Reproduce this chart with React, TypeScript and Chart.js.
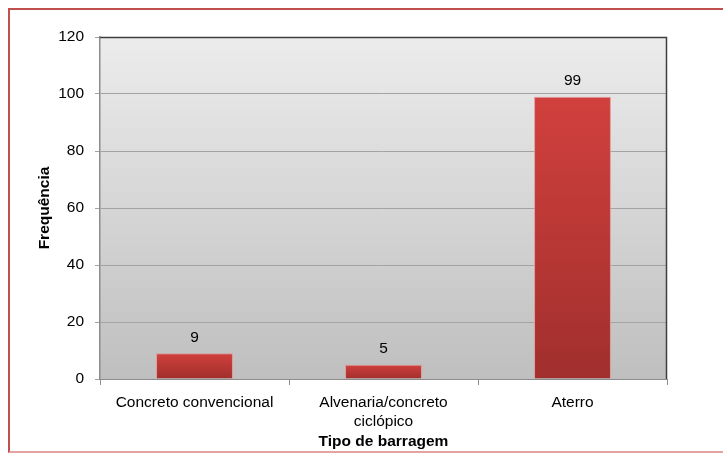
import React, { useEffect, useRef } from 'react';
import { Chart, registerables } from 'chart.js';

Chart.register(...registerables);

const categories: (string | string[])[] = [
  'Concreto convencional',
  ['Alvenaria/concreto', 'ciclópico'],
  'Aterro',
];
const values = [9, 5, 99];
const yMin = 0;
const yMax = 120;
const yStep = 20;
const yTitle = 'Frequência';
const xTitle = 'Tipo de barragem';

const FONT = "'Liberation Sans Narrow', 'Arial Narrow', 'Liberation Sans', Arial, sans-serif";
const FS = 15.5;

const plotPlugin = {
  id: 'plotDecor',
  beforeDraw(chart: any) {
    const { ctx, chartArea: a } = chart;
    if (!a) return;
    const g = ctx.createLinearGradient(0, a.top, 0, a.bottom);
    g.addColorStop(0, '#ececec');
    g.addColorStop(1, '#bfbfbf');
    ctx.save();
    ctx.fillStyle = g;
    ctx.fillRect(a.left, a.top, a.right - a.left, a.bottom - a.top);
    ctx.restore();
  },
  afterDatasetsDraw(chart: any) {
    const { ctx, chartArea: a } = chart;
    ctx.save();
    ctx.strokeStyle = '#3f3f3f';
    ctx.lineWidth = 1.5;
    ctx.beginPath();
    ctx.moveTo(a.left, a.top + 0.5);
    ctx.lineTo(a.right - 0.5, a.top + 0.5);
    ctx.lineTo(a.right - 0.5, a.bottom);
    ctx.stroke();

    const meta = chart.getDatasetMeta(0);
    ctx.fillStyle = '#000';
    ctx.font = `${FS}px ${FONT}`;
    ctx.textAlign = 'center';
    ctx.textBaseline = 'middle';
    meta.data.forEach((el: any, i: number) => {
      ctx.fillText(String(values[i]), el.x, el.y - 16);
    });
    ctx.restore();
  },
};

export default function App() {
  const ref = useRef<HTMLCanvasElement>(null);

  useEffect(() => {
    const canvas = ref.current;
    if (!canvas) return;
    const chart = new Chart(canvas, {
      type: 'bar',
      data: {
        labels: categories,
        datasets: [
          {
            data: values,
            backgroundColor: (c: any) => {
              const ch = c.chart;
              const ys = ch.scales?.y;
              if (!ys || c.dataIndex == null) return '#c03a38';
              const top = ys.getPixelForValue(values[c.dataIndex]);
              const base = ys.getPixelForValue(0);
              if (!isFinite(top) || !isFinite(base) || top === base) return '#c03a38';
              const g = ch.ctx.createLinearGradient(0, top, 0, base);
              g.addColorStop(0, '#d1403d');
              g.addColorStop(1, '#a02f2d');
              return g;
            },
            borderColor: 'rgba(225,150,150,0.9)',
            borderWidth: 1,
            barPercentage: 0.407,
            categoryPercentage: 1,
          },
        ],
      },
      options: {
        responsive: false,
        animation: false,
        devicePixelRatio: 1,
        layout: { padding: { left: 0, right: 56, top: 37, bottom: 0 } },
        plugins: {
          legend: { display: false },
          tooltip: { enabled: false },
        },
        scales: {
          x: {
            afterFit: (s: any) => {
              s.height = 75;
            },
            grid: {
              drawOnChartArea: false,
              drawTicks: true,
              tickLength: 6,
              color: '#8c8c8c',
            },
            border: { color: '#8c8c8c', width: 1 },
            ticks: {
              color: '#000',
              padding: 8,
              maxRotation: 0,
              autoSkip: false,
              font: { family: FONT, size: FS, lineHeight: 1.23 },
            },
            title: {
              display: true,
              text: xTitle,
              color: '#000',
              font: { family: FONT, size: FS, weight: 'bold', lineHeight: 1.07 },
              padding: { top: 0, bottom: 4 },
            },
          },
          y: {
            min: yMin,
            max: yMax,
            afterFit: (s: any) => {
              s.width = 100;
            },
            grid: {
              color: '#a3a3a3',
              tickLength: 5,
              lineWidth: 1,
            },
            border: { color: '#8c8c8c', width: 1.5 },
            ticks: {
              stepSize: yStep,
              color: '#000',
              padding: 11,
              font: { family: FONT, size: FS, lineHeight: 1.07 },
            },
            title: {
              display: true,
              text: yTitle,
              color: '#000',
              font: { family: FONT, size: FS, weight: 'bold', lineHeight: 1.07 },
              padding: { top: 36.5, bottom: 0 },
            },
          },
        },
      },
      plugins: [plotPlugin],
    });
    return () => chart.destroy();
  }, []);

  return (
    <div
      style={{
        position: 'absolute',
        left: 0,
        top: 0,
        width: 723,
        height: 454,
        overflow: 'hidden',
        background: '#fff',
      }}
    >
      <canvas ref={ref} width={723} height={454} style={{ position: 'absolute', left: 0, top: 0 }} />
      <div
        style={{
          position: 'absolute',
          left: 8,
          top: 8,
          width: 800,
          height: 445,
          boxSizing: 'border-box',
          borderTop: '2px solid #c0504d',
          borderLeft: '2px solid #c0504d',
          borderBottom: '2px solid #e2a4a3',
          pointerEvents: 'none',
        }}
      />
    </div>
  );
}
